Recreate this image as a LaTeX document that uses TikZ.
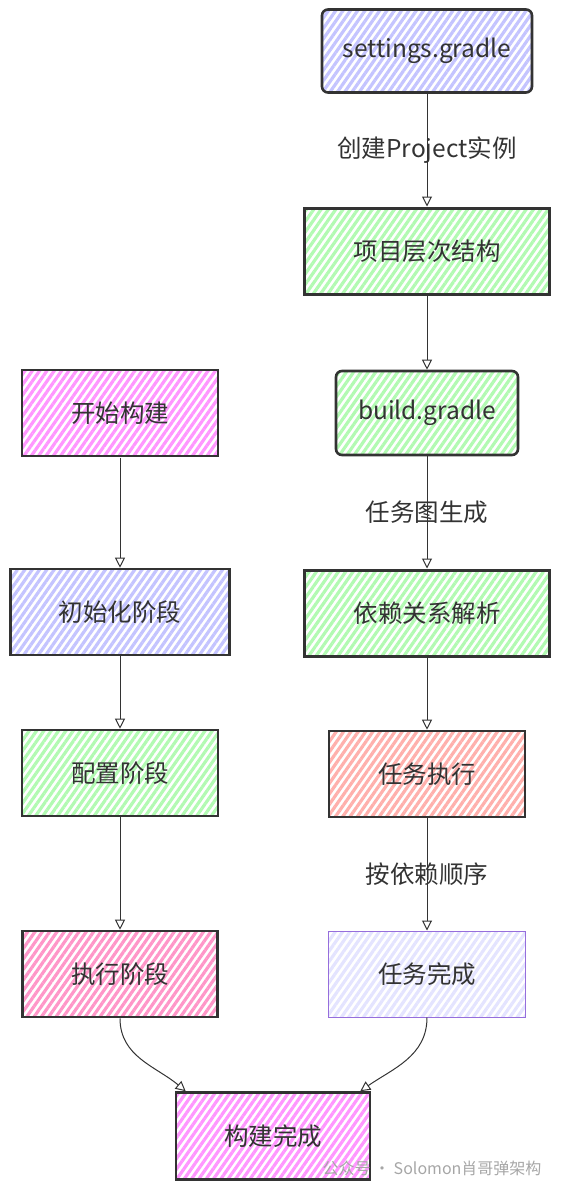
\documentclass[tikz,border=0pt]{standalone}
\usepackage{fontspec}
\setmainfont{Noto Sans CJK SC}
\usetikzlibrary{arrows.meta,patterns.meta}

\definecolor{cBlue}{RGB}{196,196,255}
\definecolor{cGreen}{RGB}{178,250,178}
\definecolor{cMag}{RGB}{255,150,255}
\definecolor{cRed}{RGB}{255,176,172}
\definecolor{cPink}{RGB}{255,150,200}
\definecolor{cLav}{RGB}{228,228,255}
\definecolor{cPurple}{RGB}{150,110,220}
\definecolor{cInk}{RGB}{51,51,51}

\begin{document}
\begin{tikzpicture}[x=1pt, y=-1pt, font=\fontsize{24.5}{28}\selectfont, text=cInk,
    box/.style={draw=cInk, line width=2.6pt, rectangle, align=center, minimum height=86pt},
    hatch/.style={pattern={Lines[angle=55,distance=6pt,line width=3.2pt]}, pattern color=#1},
    arr/.style={-{Triangle[open,length=10pt,width=10pt]}, line width=1pt, draw=cInk},
    lbl/.style={fill=none, draw=none}]
    \useasboundingbox (0,0) rectangle (562,1191);

    % linke Spalte
    \node (start) [box, hatch=cMag, minimum width=196pt] at (120,413) {开始构建};
    \node (init) [box, hatch=cBlue, minimum width=219pt, below of=start, node distance=199pt] {初始化阶段};
    \node (config) [box, hatch=cGreen, minimum width=196pt, below of=init, node distance=161pt] {配置阶段};
    \node (exec) [box, hatch=cPink, minimum width=195pt, below of=config, node distance=201pt] {执行阶段};

    % rechte Spalte
    \node (settings) [box, hatch=cBlue, rounded corners=6pt, minimum width=210pt, minimum height=83pt] at (427,51) {settings.gradle};
    \node (hier) [box, hatch=cGreen, line width=3pt, minimum width=245pt, below of=settings, node distance=200pt] {项目层次结构};
    \node (build) [box, hatch=cGreen, rounded corners=6pt, minimum width=182pt, minimum height=84pt, below of=hier, node distance=162pt] {build.gradle};
    \node (deps) [box, hatch=cGreen, line width=3pt, minimum width=245pt, below of=build, node distance=200pt] {依赖关系解析};
    \node (taskrun) [box, hatch=cRed, minimum width=196pt, below of=deps, node distance=161pt] {任务执行};
    \node (taskdone) [box, hatch=cLav, draw=cPurple, line width=1pt, minimum width=197pt, below of=taskrun, node distance=200pt] {任务完成};

    \node (done) [box, hatch=cMag, minimum width=194pt, minimum height=87pt] at (273,1136) {构建完成};

    \draw[arr] (start) -- (init);
    \draw[arr] (init) -- (config);
    \draw[arr] (config) -- (exec);

    \draw[arr] (settings) -- node[lbl] (l1) {创建Project实例} (hier);
    \draw[arr] (hier) -- (build);
    \draw[arr] (build) -- node[lbl] (l2) {任务图生成} (deps);
    \draw[arr] (deps) -- (taskrun);
    \draw[arr] (taskrun) -- node[lbl] (l3) {按依赖顺序} (taskdone);

    \draw[arr] (exec.south) to[out=-90, in=140] ([xshift=11pt]done.north west);
    \draw[arr] (taskdone.south) to[out=-90, in=35] ([xshift=-11pt]done.north east);

    \node (wm) [lbl, text=black!35, font=\fontsize{16}{19}\selectfont, anchor=east] at (545,1168) {公众号 · Solomon肖哥弹架构};
\end{tikzpicture}
\end{document}
